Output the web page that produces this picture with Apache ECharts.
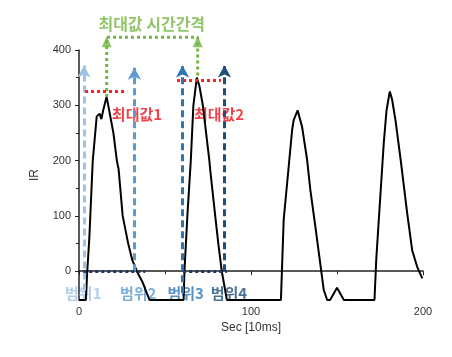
<!DOCTYPE html>
<html><head><meta charset="utf-8">
<script src="https://cdn.jsdelivr.net/npm/echarts@6/dist/echarts.min.js"></script>
<style>html,body{margin:0;padding:0;background:#fff}#c{width:452px;height:357px}</style>
</head><body><div id="c"></div>
<script>
// Main IR signal (x in 10ms, y IR)
var sigX = [0,4,4.8,6,8,10.3,12,13,14,16,17,20,22,23,25.4,28.6,31,33.6,37,41,60.8,61.3,63,65,66.5,68.5,70,72,75.8,76.3,79.2,81,83,86,117.4,119,122.3,123.9,124.8,127.1,129.7,132.6,134.5,137.4,140,142.3,144.3,146,150,154,171.8,172.8,175.3,177.2,178.8,180.7,182,184,187,190.8,193.7,196.6,199.6];
var sigY = [-52,-52,0,60,200,280,285,275,290,315,300,250,200,185,100,50,20,0,-20,-52,-52,0,100,200,300,350,335,300,200,183,100,50,0,-52,-52,93,202,255,273,291,261,202,147,81,20,-34,-52,-52,-30,-52,-52,20,141,232,291,325,311,273,202,105,38,8,-13];
var yTicks = [0,100,200,300,400];
var yMinor = [50,150,250,350];
// range arrows
var rangeNames = ['범위1','범위2','범위3','범위4'];
var rangeX = [2.9,32.2,60.2,84.6];
var rangeBottom = [-35,0,-40,0];
var rangeTop = [372,368,372,372];
var rangeColors = ['#9dc3e6','#5b9bd5','#2e75b6','#1f4e79'];
var rangeLabelX = [2.5,34.4,62,87.2];
var rangeLabelY = -40;
// peak markers
var peakNames = ['최대값1','최대값2'];
var peakLineX0 = [3.5,57];
var peakLineX1 = [28,82.5];
var peakLineY = [325,345];
var peakLabelX = [33.7,81.4];
var peakLabelY = [284,284];
var peakX = [16.1,69];
var peakY = [315,350];
// baseline dotted
var baseX0 = [2.5,60.6];
var baseX1 = [38.5,86];
// interval
var intervalY = 423;
var intervalArrowY = 415;
var intervalLabel = '최대값 시간간격';
var intervalLabelPos = [42.3,447];

var data = sigX.map(function(x,i){return [x,sigY[i]];});
var markData = [];
rangeX.forEach(function(x,i){
  markData.push([{coord:[x,rangeBottom[i]],symbol:'none',lineStyle:{color:rangeColors[i],type:[7,4],width:3}},{coord:[x,rangeTop[i]],symbol:'arrow'}]);
});
peakLineY.forEach(function(y,i){
  markData.push([{coord:[peakLineX0[i],y],symbol:'none',lineStyle:{color:'#ff2020',type:[3,3],width:3}},{coord:[peakLineX1[i],y],symbol:'none'}]);
});
baseX0.forEach(function(x,i){
  markData.push([{coord:[x,0],symbol:'none',lineStyle:{color:'#1f3864',type:[3,3],width:3}},{coord:[baseX1[i],0],symbol:'none'}]);
});
var greenPath = [[peakX[0],peakY[0]],[peakX[0],intervalY],[peakX[1],intervalY],[peakX[1],peakY[1]]];
var greenArrows = [[peakX[0],intervalArrowY],[peakX[1],intervalArrowY]];

var labels = [];
rangeNames.forEach(function(n,i){
  labels.push({value:[rangeLabelX[i],rangeLabelY],name:n,label:{color:rangeColors[i],fontSize:15,fontWeight:'bold'}});
});
peakNames.forEach(function(n,i){
  labels.push({value:[peakLabelX[i],peakLabelY[i]],name:n,label:{color:'#e8141b',fontSize:15,fontWeight:'bold'}});
});
labels.push({value:intervalLabelPos,name:intervalLabel,label:{color:'#74b544',fontSize:16,fontWeight:'bold'}});

var chart = echarts.init(document.getElementById('c'),null,{renderer:'canvas'});
chart.setOption({
  animation:false,
  grid:{left:79,right:29,top:50,bottom:57,containLabel:false},
  xAxis:{type:'value',min:0,max:200,interval:100,name:'Sec [10ms]',nameLocation:'middle',nameGap:22,
    nameTextStyle:{fontSize:12,color:'#333',fontFamily:'Liberation Sans'},
    axisLine:{lineStyle:{color:'#222',width:1.5}},axisTick:{length:4,lineStyle:{color:'#222'}},
    minorTick:{show:true,splitNumber:2,length:3,lineStyle:{color:'#222'}},
    axisLabel:{fontSize:11,color:'#333',fontFamily:'Liberation Sans',margin:6},splitLine:{show:false}},
  yAxis:[{type:'value',min:-52,max:400,name:'IR',nameLocation:'middle',nameGap:38,nameRotate:90,
    nameTextStyle:{fontSize:12,color:'#333',fontFamily:'Liberation Sans'},
    axisLine:{show:true,lineStyle:{color:'#222',width:1.5}},
    axisTick:{show:true,customValues:yTicks,length:4,lineStyle:{color:'#222'}},
    axisLabel:{customValues:yTicks,fontSize:11,color:'#333',fontFamily:'Liberation Sans',margin:8},
    splitLine:{show:false}},
   {type:'value',min:-52,max:400,position:'left',
    axisLine:{show:false},axisTick:{show:true,customValues:yMinor,length:3,lineStyle:{color:'#222'}},
    axisLabel:{show:false},splitLine:{show:false}}],
  series:[{type:'line',data:data,showSymbol:false,symbol:'none',clip:false,
    lineStyle:{color:'#000',width:2},
    markLine:{silent:true,symbolSize:[10,12],label:{show:false},data:markData}},
   {type:'line',data:greenPath,symbol:'none',clip:false,silent:true,
    lineStyle:{color:'#74b544',type:[3,3],width:3}},
   {type:'scatter',data:greenArrows,symbol:'triangle',symbolSize:[10,11],clip:false,silent:true,
    itemStyle:{color:'#74b544'}},
   {type:'scatter',data:labels,symbolSize:0,clip:false,silent:true,
    label:{show:true,position:'inside',formatter:'{b}',fontFamily:'Noto Sans CJK KR'}}]
});
</script></body></html>
